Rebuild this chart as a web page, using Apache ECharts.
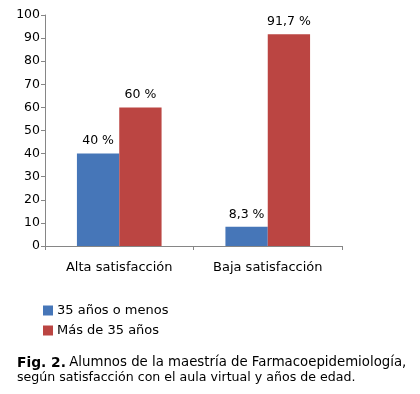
<!DOCTYPE html>
<html><head><meta charset="utf-8">
<script src="https://cdn.jsdelivr.net/npm/echarts@6/dist/echarts.min.js"></script>
<style>html,body{margin:0;padding:0;background:#fff}#c{width:420px;height:394px}</style>
</head><body><div id="c"></div>
<script>
var categories = ["Alta satisfacción", "Baja satisfacción"];
var seriesNames = ["35 años o menos", "Más de 35 años"];
var young = [40, 8.3];
var older = [60, 91.7];
var youngLabels = ["40 %", "8,3 %"];
var olderLabels = ["60 %", "91,7 %"];
var yTicks = [0, 10, 20, 30, 40, 50, 60, 70, 80, 90, 100];

var font = "Verdana, 'DejaVu Sans', sans-serif";
var chart = echarts.init(document.getElementById('c'));
function lbl(arr){ return {show:true, position:'top', distance:6, color:'#000', fontFamily:font, fontSize:12.5,
  formatter:function(p){return arr[p.dataIndex];}}; }
chart.setOption({
  animation:false,
  textStyle:{fontFamily:font},
  grid:{left:45, right:78, top:15, bottom:148, containLabel:false},
  xAxis:{type:'category', data:categories,
    axisLine:{lineStyle:{color:'#868686'}},
    axisTick:{show:true, length:4, lineStyle:{color:'#868686'}},
    axisLabel:{color:'#000', fontFamily:font, fontSize:13, margin:15}},
  yAxis:{type:'value', min:yTicks[0], max:yTicks[yTicks.length-1], interval:10,
    axisLine:{show:true, lineStyle:{color:'#868686'}},
    axisTick:{show:true, length:4, lineStyle:{color:'#868686'}},
    splitLine:{show:false},
    axisLabel:{color:'#000', fontFamily:font, fontSize:12.5, margin:5}},
  legend:{orient:'vertical', left:38, top:299, itemWidth:10, itemHeight:10, itemGap:7,
    icon:'rect', textStyle:{fontFamily:font, fontSize:13, color:'#000', padding:[0,0,0,-1]},
    data:seriesNames},
  series:[
    {name:seriesNames[0], type:'bar', data:young, barGap:'0%', barCategoryGap:'43%',
     itemStyle:{color:'#4676B8'}, label:lbl(youngLabels)},
    {name:seriesNames[1], type:'bar', data:older,
     itemStyle:{color:'#BB4542'}, label:lbl(olderLabels)}
  ],
  graphic:[
    {type:'text', left:17, top:356, style:{rich:{b:{fontWeight:'bold', fontFamily:font, fontSize:13.8, fill:'#000'}, n:{fontFamily:font, fontSize:13.3, fill:'#000'}},
      text:'{b|Fig. 2.} {n|Alumnos de la maestría de Farmacoepidemiología,}', fill:'#000'}},
    {type:'text', left:17, top:371, style:{text:'según satisfacción con el aula virtual y años de edad.', fontFamily:font, fontSize:12.6, fill:'#000'}}
  ]
});
</script></body></html>
